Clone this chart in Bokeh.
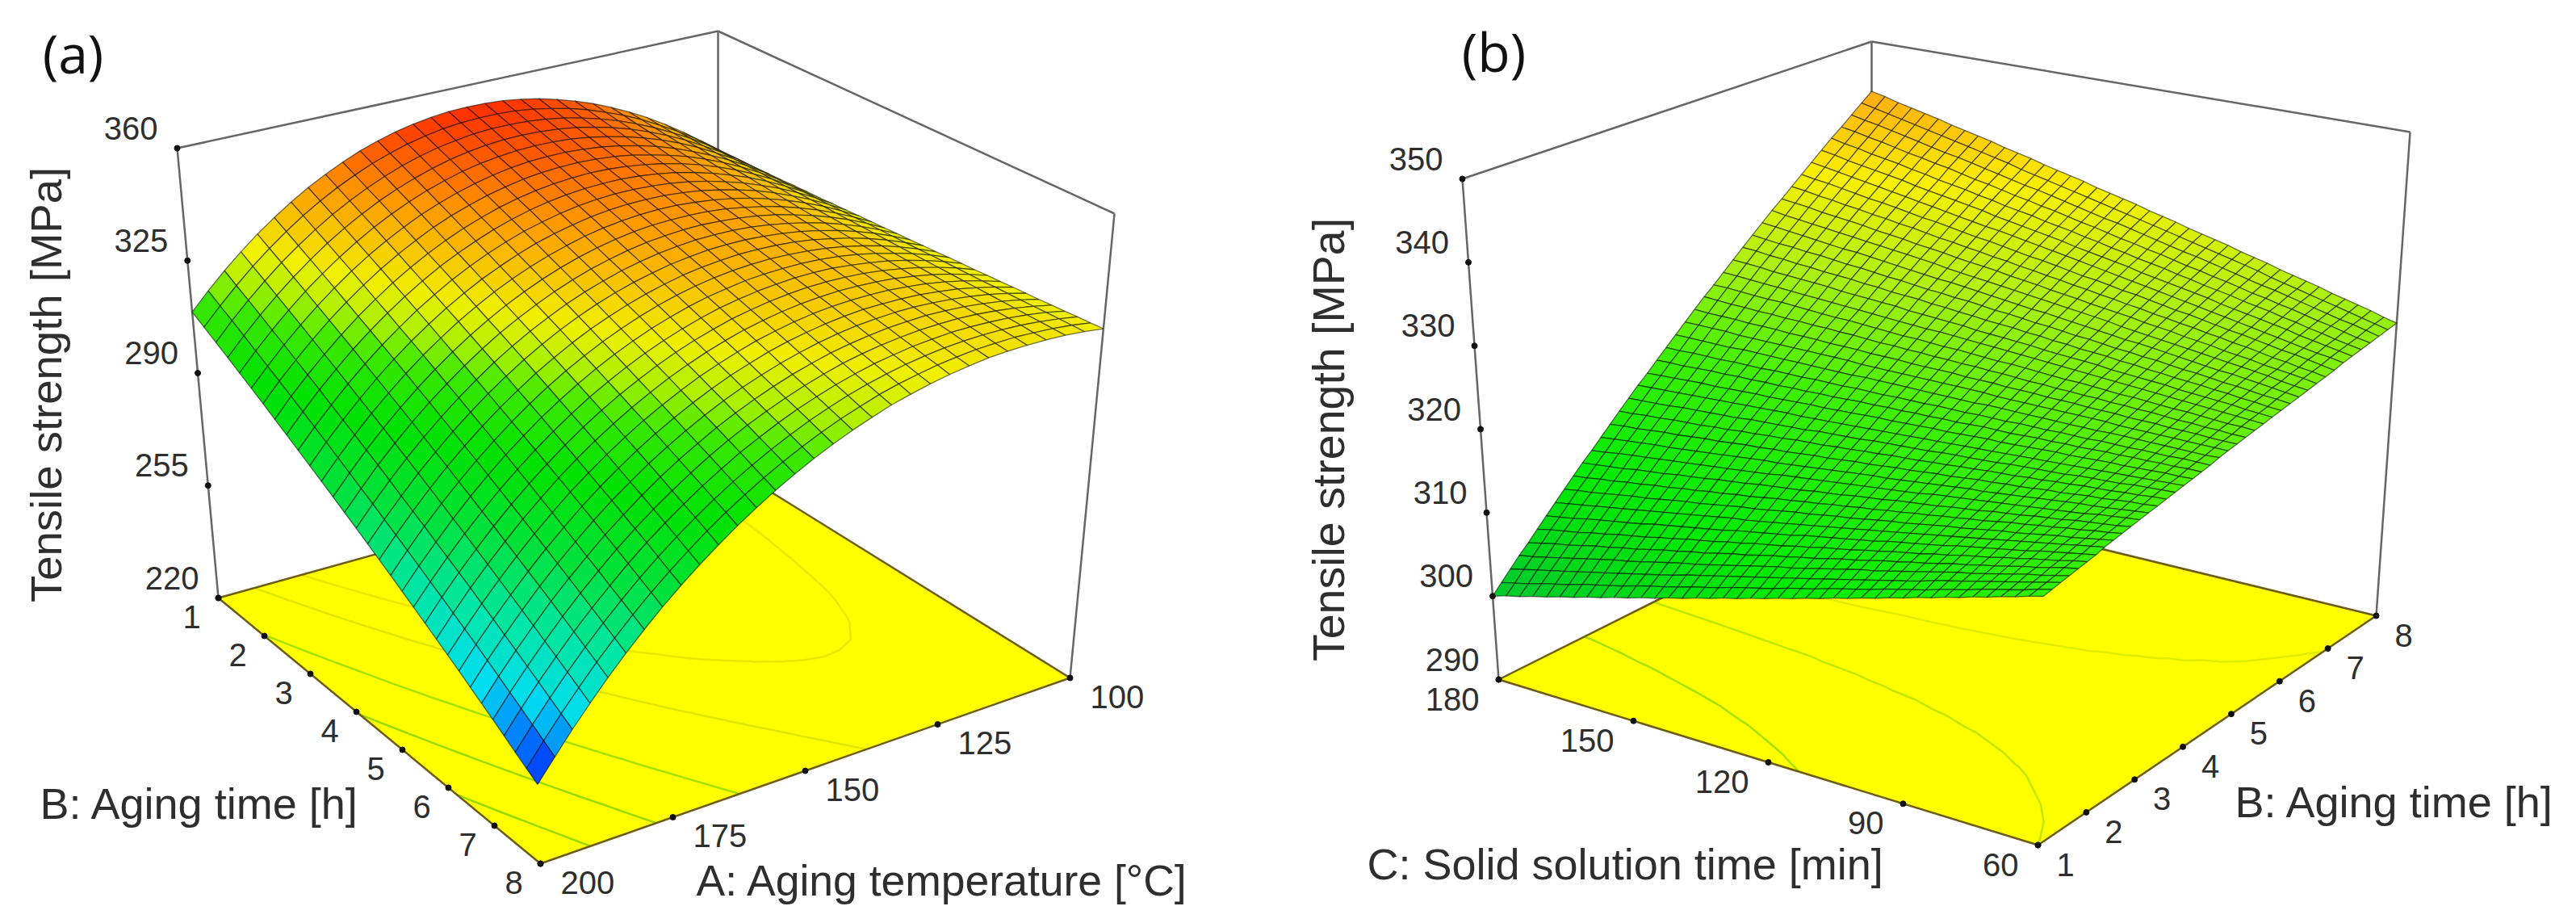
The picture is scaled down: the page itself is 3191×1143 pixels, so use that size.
import math
import numpy as np
from bokeh.plotting import figure
from bokeh.models import Range1d
from bokeh.core.properties import value
from bokeh.embed import file_html
from bokeh.resources import INLINE

# ---------- chart values ----------
A_NODES = [100.0,103.33,106.67,110.0,113.33,116.67,120.0,123.33,126.67,130.0,133.33,136.67,140.0,143.33,146.67,150.0,
           153.33,156.67,160.0,163.33,166.67,170.0,173.33,176.67,180.0,183.33,186.67,190.0,193.33,196.67,200.0]
B_NODES_A = [1.0,1.233,1.467,1.7,1.933,2.167,2.4,2.633,2.867,3.1,3.333,3.567,3.8,4.033,4.267,4.5,
             4.733,4.967,5.2,5.433,5.667,5.9,6.133,6.367,6.6,6.833,7.067,7.3,7.533,7.767,8.0]
# rows: B from 1 to 8; columns: A from 100 to 200
TS_A = [
 [321.0,325.5,329.7,333.5,337.0,340.1,342.9,345.4,347.5,349.3,350.8,351.9,352.7,353.1,353.2,353.0,352.4,351.5,350.3,348.7,346.8,344.5,341.9,339.0,335.7,332.1,328.2,323.9,319.3,314.3,309.0],
 [321.1,325.5,329.6,333.3,336.6,339.7,342.4,344.7,346.8,348.5,349.8,350.9,351.6,351.9,351.9,351.6,351.0,350.0,348.7,347.0,345.1,342.7,340.1,337.1,333.8,330.1,326.1,321.8,317.1,312.1,306.8],
 [321.3,325.5,329.5,333.1,336.3,339.2,341.8,344.1,346.0,347.6,348.9,349.8,350.4,350.7,350.7,350.3,349.5,348.5,347.1,345.4,343.3,340.9,338.2,335.2,331.8,328.1,324.1,319.7,315.0,310.0,304.6],
 [321.4,325.6,329.4,332.8,336.0,338.8,341.3,343.5,345.3,346.8,348.0,348.8,349.3,349.5,349.4,348.9,348.1,347.0,345.5,343.7,341.6,339.2,336.4,333.3,329.9,326.1,322.0,317.6,312.9,307.8,302.4],
 [321.6,325.6,329.3,332.6,335.7,338.4,340.8,342.8,344.5,345.9,347.0,347.8,348.2,348.3,348.1,347.5,346.7,345.5,343.9,342.1,339.9,337.4,334.6,331.4,327.9,324.1,320.0,315.5,310.7,305.6,300.2],
 [321.7,325.6,329.2,332.4,335.3,337.9,340.2,342.2,343.8,345.1,346.1,346.7,347.1,347.1,346.8,346.2,345.2,343.9,342.3,340.4,338.2,335.6,332.7,329.5,326.0,322.1,317.9,313.4,308.6,303.4,298.0],
 [321.9,325.6,329.1,332.2,335.0,337.5,339.7,341.5,343.0,344.3,345.2,345.7,346.0,345.9,345.5,344.8,343.7,342.4,340.7,338.8,336.5,333.8,330.9,327.6,324.0,320.1,315.9,311.3,306.4,301.3,295.8],
 [322.0,325.6,329.0,332.0,334.7,337.1,339.2,340.9,342.3,343.4,344.2,344.7,344.9,344.7,344.2,343.4,342.3,340.9,339.1,337.1,334.7,332.0,329.0,325.7,322.0,318.1,313.8,309.2,304.3,299.1,293.5],
 [322.1,325.7,328.9,331.8,334.4,336.6,338.6,340.2,341.6,342.6,343.3,343.7,343.7,343.5,342.9,342.1,340.9,339.4,337.6,335.4,333.0,330.3,327.2,323.8,320.1,316.1,311.8,307.1,302.2,296.9,291.3],
 [322.3,325.7,328.8,331.6,334.0,336.2,338.0,339.6,340.8,341.7,342.3,342.6,342.6,342.3,341.7,340.7,339.4,337.9,336.0,333.8,331.3,328.5,325.3,321.9,318.1,314.1,309.7,305.0,300.0,294.7,289.1],
 [322.4,325.7,328.7,331.3,333.7,335.8,337.5,338.9,340.1,340.9,341.4,341.6,341.5,341.1,340.4,339.3,338.0,336.4,334.4,332.1,329.6,326.7,323.5,320.0,316.2,312.1,307.7,302.9,297.9,292.6,286.9],
 [322.6,325.7,328.6,331.1,333.4,335.3,337.0,338.3,339.3,340.0,340.5,340.6,340.4,339.9,339.1,338.0,336.5,334.8,332.8,330.5,327.9,324.9,321.7,318.1,314.3,310.1,305.6,300.9,295.8,290.4,284.7],
 [322.7,325.7,328.5,330.9,333.0,334.9,336.4,337.6,338.6,339.2,339.5,339.5,339.3,338.7,337.8,336.6,335.1,333.3,331.2,328.8,326.1,323.1,319.8,316.2,312.3,308.1,303.6,298.8,293.7,288.2,282.5],
 [322.8,325.8,328.4,330.7,332.7,334.4,335.9,337.0,337.8,338.3,338.6,338.5,338.1,337.5,336.5,335.2,333.7,331.8,329.6,327.1,324.4,321.4,318.0,314.3,310.3,306.1,301.6,296.7,291.6,286.0,280.3],
 [323.0,325.8,328.3,330.5,332.4,334.0,335.3,336.3,337.1,337.5,337.6,337.5,337.0,336.3,335.2,333.9,332.2,330.3,328.1,325.5,322.7,319.6,316.2,312.4,308.4,304.1,299.5,294.6,289.4,283.9,278.1],
 [323.1,325.8,328.2,330.3,332.1,333.6,334.8,335.7,336.3,336.7,336.7,336.5,335.9,335.1,333.9,332.5,330.8,328.8,326.5,323.9,321.0,317.8,314.3,310.5,306.4,302.1,297.4,292.5,287.2,281.7,275.9],
 [323.3,325.8,328.1,330.1,331.8,333.1,334.3,335.1,335.6,335.8,335.8,335.4,334.8,333.9,332.6,331.1,329.3,327.2,324.9,322.2,319.2,316.0,312.4,308.6,304.5,300.1,295.4,290.4,285.1,279.5,273.7],
 [323.4,325.8,328.0,329.9,331.4,332.7,333.7,334.4,334.8,335.0,334.8,334.4,333.7,332.7,331.4,329.8,327.9,325.7,323.3,320.5,317.5,314.2,310.6,306.7,302.5,298.1,293.3,288.3,283.0,277.4,271.5],
 [323.6,325.9,327.9,329.6,331.1,332.3,333.2,333.8,334.1,334.1,333.9,333.4,332.5,331.5,330.1,328.4,326.5,324.2,321.7,318.9,315.8,312.4,308.8,304.8,300.6,296.1,291.3,286.2,280.8,275.2,269.3],
 [323.7,325.9,327.8,329.4,330.8,331.8,332.6,333.2,333.4,333.3,332.9,332.3,331.4,330.3,328.8,327.0,325.0,322.7,320.1,317.2,314.1,310.6,306.9,302.9,298.6,294.1,289.2,284.1,278.7,273.0,267.1],
 [323.8,325.9,327.7,329.2,330.4,331.4,332.1,332.5,332.6,332.5,332.0,331.3,330.3,329.1,327.5,325.7,323.6,321.2,318.5,315.6,312.4,308.9,305.1,301.0,296.7,292.1,287.2,282.0,276.6,270.9,264.9],
 [324.0,325.9,327.6,329.0,330.1,331.0,331.5,331.8,331.9,331.6,331.1,330.3,329.2,327.9,326.2,324.3,322.1,319.7,316.9,313.9,310.6,307.1,303.3,299.2,294.7,290.1,285.1,279.9,274.5,268.7,262.7],
 [324.1,325.9,327.5,328.8,329.8,330.5,331.0,331.2,331.1,330.8,330.2,329.3,328.1,326.7,324.9,322.9,320.7,318.1,315.3,312.3,308.9,305.3,301.4,297.3,292.8,288.1,283.1,277.8,272.3,266.5,260.5],
 [324.3,326.0,327.4,328.6,329.4,330.1,330.4,330.5,330.4,329.9,329.2,328.2,327.0,325.5,323.6,321.6,319.2,316.6,313.7,310.6,307.2,303.5,299.6,295.4,290.8,286.1,281.0,275.7,270.2,264.4,258.3],
 [324.4,326.0,327.3,328.3,329.1,329.6,329.9,329.9,329.6,329.1,328.3,327.2,325.8,324.2,322.3,320.2,317.8,315.1,312.1,308.9,305.5,301.7,297.8,293.5,288.9,284.1,279.0,273.6,268.0,262.2,256.0],
 [324.5,326.0,327.2,328.1,328.8,329.2,329.4,329.2,328.9,328.2,327.3,326.2,324.7,323.0,321.0,318.8,316.3,313.6,310.5,307.3,303.8,300.0,295.9,291.6,286.9,282.1,277.0,271.5,265.9,260.0,253.8],
 [324.7,326.0,327.1,327.9,328.5,328.8,328.8,328.6,328.1,327.4,326.4,325.2,323.6,321.8,319.7,317.4,314.9,312.1,309.0,305.6,302.0,298.2,294.1,289.7,285.0,280.1,274.9,269.4,263.7,257.8,251.6],
 [324.8,326.1,327.0,327.7,328.1,328.3,328.3,327.9,327.4,326.5,325.5,324.1,322.5,320.6,318.5,316.1,313.4,310.6,307.4,304.0,300.3,296.4,292.3,287.8,283.0,278.1,272.9,267.3,261.6,255.6,249.4],
 [325.0,326.1,326.9,327.5,327.8,327.9,327.7,327.3,326.6,325.7,324.5,323.1,321.4,319.4,317.2,314.7,312.0,309.0,305.8,302.3,298.6,294.6,290.4,285.9,281.1,276.1,270.8,265.2,259.4,253.4,247.1],
 [325.1,326.1,326.8,327.2,327.5,327.4,327.2,326.6,325.9,324.8,323.6,322.1,320.2,318.2,315.9,313.3,310.5,307.5,304.2,300.7,296.9,292.8,288.5,284.0,279.2,274.1,268.8,263.1,257.3,251.2,244.9],
 [325.3,326.1,326.7,327.0,327.1,327.0,326.7,326.0,325.1,324.0,322.6,321.1,319.1,317.0,314.6,312.0,309.1,306.0,302.6,299.0,295.1,291.0,286.7,282.1,277.2,272.1,266.7,261.0,255.2,249.0,242.8],
]
C_NODES = [180,177,174,171,168,165,162,159,156,153,150,147,144,141,138,135,132,129,126,123,120,
           117,114,111,108,105,102,99,96,93,90,87,84,81,78,75,72,69,66,63,60]
B_NODES_B = [1.0,1.175,1.35,1.525,1.7,1.875,2.05,2.225,2.4,2.575,2.75,2.925,3.1,3.275,3.45,3.625,3.8,3.975,4.15,4.325,4.5,
             4.675,4.85,5.025,5.2,5.375,5.55,5.725,5.9,6.075,6.25,6.425,6.6,6.775,6.95,7.125,7.3,7.475,7.65,7.825,8.0]
# rows: B from 1 to 8; columns: C from 180 to 60
TS_B = [
 [300.0,300.5,300.9,301.4,301.8,302.3,302.7,303.2,303.6,304.1,304.5,305.0,305.4,305.9,306.3,306.8,307.2,307.7,308.1,308.6,309.0,309.5,309.9,310.4,310.8,311.3,311.7,312.2,312.6,313.1,313.5,314.0,314.4,314.9,315.3,315.8,316.2,316.7,317.1,317.6,318.0],
 [301.1,301.5,301.9,302.4,302.8,303.2,303.7,304.1,304.5,304.9,305.4,305.8,306.2,306.6,307.1,307.5,307.9,308.4,308.8,309.2,309.6,310.1,310.5,310.9,311.4,311.8,312.2,312.6,313.1,313.5,313.9,314.3,314.8,315.2,315.6,316.1,316.5,316.9,317.3,317.8,318.2],
 [302.2,302.6,303.0,303.4,303.8,304.2,304.6,305.0,305.4,305.8,306.2,306.6,307.0,307.5,307.9,308.3,308.7,309.1,309.5,309.9,310.3,310.7,311.1,311.5,311.9,312.3,312.7,313.1,313.5,313.9,314.3,314.8,315.2,315.6,316.0,316.4,316.8,317.2,317.6,318.0,318.4],
 [303.3,303.6,304.0,304.4,304.8,305.2,305.6,306.0,306.3,306.7,307.1,307.5,307.9,308.2,308.6,309.0,309.4,309.8,310.2,310.6,310.9,311.3,311.7,312.1,312.5,312.9,313.2,313.6,314.0,314.4,314.8,315.2,315.6,315.9,316.3,316.7,317.1,317.5,317.8,318.2,318.6],
 [304.3,304.7,305.1,305.4,305.8,306.2,306.5,306.9,307.2,307.6,308.0,308.3,308.7,309.0,309.4,309.8,310.1,310.5,310.9,311.2,311.6,311.9,312.3,312.7,313.0,313.4,313.8,314.1,314.5,314.8,315.2,315.6,315.9,316.3,316.6,317.0,317.4,317.7,318.1,318.5,318.8],
 [305.4,305.8,306.1,306.4,306.8,307.1,307.5,307.8,308.1,308.5,308.8,309.2,309.5,309.8,310.2,310.5,310.9,311.2,311.5,311.9,312.2,312.6,312.9,313.2,313.6,313.9,314.3,314.6,314.9,315.3,315.6,316.0,316.3,316.6,317.0,317.3,317.7,318.0,318.3,318.7,319.0],
 [306.5,306.8,307.1,307.5,307.8,308.1,308.4,308.7,309.1,309.4,309.7,310.0,310.3,310.6,311.0,311.3,311.6,311.9,312.2,312.6,312.9,313.2,313.5,313.8,314.1,314.5,314.8,315.1,315.4,315.7,316.1,316.4,316.7,317.0,317.3,317.6,318.0,318.3,318.6,318.9,319.2],
 [307.6,307.9,308.2,308.5,308.8,309.1,309.4,309.7,310.0,310.3,310.6,310.9,311.2,311.5,311.7,312.0,312.3,312.6,312.9,313.2,313.5,313.8,314.1,314.4,314.7,315.0,315.3,315.6,315.9,316.2,316.5,316.8,317.1,317.4,317.7,318.0,318.3,318.6,318.9,319.2,319.5],
 [308.7,309.0,309.2,309.5,309.8,310.1,310.3,310.6,310.9,311.2,311.4,311.7,312.0,312.3,312.5,312.8,313.1,313.4,313.6,313.9,314.2,314.4,314.7,315.0,315.3,315.5,315.8,316.1,316.4,316.6,316.9,317.2,317.5,317.7,318.0,318.3,318.6,318.8,319.1,319.4,319.7],
 [309.8,310.0,310.3,310.5,310.8,311.0,311.3,311.5,311.8,312.0,312.3,312.5,312.8,313.0,313.3,313.6,313.8,314.1,314.3,314.6,314.8,315.1,315.3,315.6,315.8,316.1,316.3,316.6,316.8,317.1,317.3,317.6,317.9,318.1,318.4,318.6,318.9,319.1,319.4,319.6,319.9],
 [310.9,311.1,311.3,311.5,311.8,312.0,312.2,312.5,312.7,312.9,313.2,313.4,313.6,313.9,314.1,314.3,314.5,314.8,315.0,315.2,315.5,315.7,315.9,316.2,316.4,316.6,316.8,317.1,317.3,317.5,317.8,318.0,318.2,318.5,318.7,318.9,319.2,319.4,319.6,319.8,320.1],
 [311.9,312.1,312.4,312.6,312.8,313.0,313.2,313.4,313.6,313.8,314.0,314.2,314.4,314.6,314.9,315.1,315.3,315.5,315.7,315.9,316.1,316.3,316.5,316.7,316.9,317.2,317.4,317.6,317.8,318.0,318.2,318.4,318.6,318.8,319.0,319.2,319.4,319.7,319.9,320.1,320.3],
 [313.0,313.2,313.4,313.6,313.8,313.9,314.1,314.3,314.5,314.7,314.9,315.1,315.3,315.4,315.6,315.8,316.0,316.2,316.4,316.6,316.8,316.9,317.1,317.3,317.5,317.7,317.9,318.1,318.2,318.4,318.6,318.8,319.0,319.2,319.4,319.6,319.7,319.9,320.1,320.3,320.5],
 [314.1,314.3,314.4,314.6,314.8,314.9,315.1,315.3,315.4,315.6,315.8,315.9,316.1,316.2,316.4,316.6,316.7,316.9,317.1,317.2,317.4,317.6,317.7,317.9,318.1,318.2,318.4,318.6,318.7,318.9,319.0,319.2,319.4,319.5,319.7,319.9,320.0,320.2,320.4,320.5,320.7],
 [315.2,315.3,315.5,315.6,315.8,315.9,316.0,316.2,316.3,316.5,316.6,316.8,316.9,317.1,317.2,317.3,317.5,317.6,317.8,317.9,318.1,318.2,318.3,318.5,318.6,318.8,318.9,319.1,319.2,319.3,319.5,319.6,319.8,319.9,320.1,320.2,320.3,320.5,320.6,320.8,320.9],
 [316.3,316.4,316.5,316.6,316.8,316.9,317.0,317.1,317.2,317.4,317.5,317.6,317.7,317.8,318.0,318.1,318.2,318.3,318.5,318.6,318.7,318.8,318.9,319.1,319.2,319.3,319.4,319.5,319.7,319.8,319.9,320.0,320.1,320.3,320.4,320.5,320.6,320.8,320.9,321.0,321.1],
 [317.4,317.5,317.6,317.7,317.8,317.9,318.0,318.1,318.2,318.3,318.4,318.5,318.5,318.6,318.7,318.8,318.9,319.0,319.1,319.2,319.3,319.4,319.5,319.6,319.7,319.8,319.9,320.0,320.1,320.2,320.3,320.4,320.5,320.6,320.7,320.8,320.9,321.0,321.1,321.2,321.3],
 [318.4,318.5,318.6,318.7,318.8,318.8,318.9,319.0,319.1,319.1,319.2,319.3,319.4,319.4,319.5,319.6,319.7,319.8,319.8,319.9,320.0,320.1,320.1,320.2,320.3,320.4,320.4,320.5,320.6,320.7,320.8,320.8,320.9,321.0,321.1,321.1,321.2,321.3,321.4,321.4,321.5],
 [319.5,319.6,319.6,319.7,319.8,319.8,319.9,319.9,320.0,320.0,320.1,320.1,320.2,320.2,320.3,320.4,320.4,320.5,320.5,320.6,320.6,320.7,320.7,320.8,320.9,320.9,320.9,321.0,321.1,321.1,321.2,321.2,321.3,321.4,321.4,321.5,321.5,321.6,321.6,321.7,321.7],
 [320.6,320.6,320.7,320.7,320.7,320.8,320.8,320.8,320.9,320.9,320.9,321.0,321.0,321.0,321.1,321.1,321.1,321.2,321.2,321.2,321.3,321.3,321.3,321.4,321.4,321.4,321.5,321.5,321.5,321.6,321.6,321.6,321.7,321.7,321.7,321.8,321.8,321.8,321.9,321.9,321.9],
 [321.7,321.7,321.7,321.7,321.7,321.8,321.8,321.8,321.8,321.8,321.8,321.8,321.8,321.8,321.9,321.9,321.9,321.9,321.9,321.9,321.9,321.9,321.9,322.0,322.0,322.0,322.0,322.0,322.0,322.0,322.0,322.0,322.1,322.1,322.1,322.1,322.1,322.1,322.1,322.1,322.2],
 [322.8,322.8,322.8,322.8,322.7,322.7,322.7,322.7,322.7,322.7,322.7,322.7,322.7,322.6,322.6,322.6,322.6,322.6,322.6,322.6,322.6,322.6,322.6,322.5,322.5,322.5,322.5,322.5,322.5,322.5,322.5,322.5,322.4,322.4,322.4,322.4,322.4,322.4,322.4,322.4,322.4],
 [323.9,323.8,323.8,323.8,323.7,323.7,323.7,323.6,323.6,323.6,323.5,323.5,323.5,323.4,323.4,323.4,323.3,323.3,323.3,323.3,323.2,323.2,323.2,323.1,323.1,323.1,323.0,323.0,323.0,322.9,322.9,322.9,322.8,322.8,322.8,322.7,322.7,322.7,322.6,322.6,322.6],
 [325.0,324.9,324.8,324.8,324.7,324.7,324.6,324.6,324.5,324.5,324.4,324.4,324.3,324.2,324.2,324.1,324.1,324.0,324.0,323.9,323.9,323.8,323.8,323.7,323.6,323.6,323.5,323.5,323.4,323.4,323.3,323.3,323.2,323.2,323.1,323.0,323.0,322.9,322.9,322.8,322.8],
 [326.0,326.0,325.9,325.8,325.7,325.7,325.6,325.5,325.4,325.3,325.3,325.2,325.1,325.0,324.9,324.9,324.8,324.7,324.7,324.6,324.5,324.4,324.4,324.3,324.2,324.1,324.0,324.0,323.9,323.8,323.7,323.7,323.6,323.5,323.4,323.4,323.3,323.2,323.1,323.1,323.0],
 [327.1,327.0,326.9,326.8,326.7,326.6,326.5,326.4,326.3,326.2,326.1,326.0,325.9,325.8,325.7,325.6,325.6,325.5,325.4,325.3,325.2,325.1,325.0,324.9,324.8,324.7,324.6,324.5,324.4,324.3,324.2,324.1,324.0,323.9,323.8,323.7,323.6,323.5,323.4,323.3,323.2],
 [328.2,328.1,328.0,327.8,327.7,327.6,327.5,327.4,327.2,327.1,327.0,326.9,326.8,326.6,326.5,326.4,326.3,326.2,326.0,325.9,325.8,325.7,325.6,325.4,325.3,325.2,325.1,325.0,324.8,324.7,324.6,324.5,324.4,324.2,324.1,324.0,323.9,323.8,323.6,323.5,323.4],
 [329.3,329.2,329.0,328.9,328.7,328.6,328.4,328.3,328.2,328.0,327.9,327.7,327.6,327.5,327.3,327.2,327.0,326.9,326.7,326.6,326.5,326.3,326.2,326.0,325.9,325.7,325.6,325.5,325.3,325.2,325.0,324.9,324.7,324.6,324.5,324.3,324.2,324.0,323.9,323.7,323.6],
 [330.4,330.2,330.0,329.9,329.7,329.6,329.4,329.2,329.1,328.9,328.7,328.6,328.4,328.2,328.1,327.9,327.8,327.6,327.4,327.3,327.1,326.9,326.8,326.6,326.4,326.3,326.1,325.9,325.8,325.6,325.5,325.3,325.1,325.0,324.8,324.6,324.5,324.3,324.1,324.0,323.8],
 [331.5,331.3,331.1,330.9,330.7,330.5,330.3,330.2,330.0,329.8,329.6,329.4,329.2,329.0,328.9,328.7,328.5,328.3,328.1,327.9,327.7,327.6,327.4,327.2,327.0,326.8,326.6,326.4,326.3,326.1,325.9,325.7,325.5,325.3,325.1,325.0,324.8,324.6,324.4,324.2,324.0],
 [332.6,332.3,332.1,331.9,331.7,331.5,331.3,331.1,330.9,330.7,330.5,330.3,330.1,329.8,329.6,329.4,329.2,329.0,328.8,328.6,328.4,328.2,328.0,327.8,327.6,327.4,327.1,326.9,326.7,326.5,326.3,326.1,325.9,325.7,325.5,325.3,325.1,324.9,324.6,324.4,324.2],
 [333.6,333.4,333.2,332.9,332.7,332.5,332.3,332.0,331.8,331.6,331.3,331.1,330.9,330.6,330.4,330.2,330.0,329.7,329.5,329.3,329.0,328.8,328.6,328.3,328.1,327.9,327.7,327.4,327.2,327.0,326.7,326.5,326.3,326.0,325.8,325.6,325.3,325.1,324.9,324.7,324.4],
 [334.7,334.5,334.2,334.0,333.7,333.5,333.2,333.0,332.7,332.5,332.2,331.9,331.7,331.4,331.2,330.9,330.7,330.4,330.2,329.9,329.7,329.4,329.2,328.9,328.7,328.4,328.2,327.9,327.7,327.4,327.2,326.9,326.7,326.4,326.2,325.9,325.6,325.4,325.1,324.9,324.6],
 [335.8,335.5,335.3,335.0,334.7,334.4,334.2,333.9,333.6,333.3,333.1,332.8,332.5,332.2,332.0,331.7,331.4,331.1,330.9,330.6,330.3,330.0,329.8,329.5,329.2,329.0,328.7,328.4,328.1,327.9,327.6,327.3,327.0,326.8,326.5,326.2,325.9,325.7,325.4,325.1,324.8],
 [336.9,336.6,336.3,336.0,335.7,335.4,335.1,334.8,334.5,334.2,333.9,333.6,333.3,333.0,332.8,332.5,332.2,331.9,331.6,331.3,331.0,330.7,330.4,330.1,329.8,329.5,329.2,328.9,328.6,328.3,328.0,327.7,327.4,327.1,326.8,326.5,326.2,325.9,325.6,325.4,325.1],
 [338.0,337.7,337.3,337.0,336.7,336.4,336.1,335.7,335.4,335.1,334.8,334.5,334.2,333.8,333.5,333.2,332.9,332.6,332.3,331.9,331.6,331.3,331.0,330.7,330.3,330.0,329.7,329.4,329.1,328.8,328.4,328.1,327.8,327.5,327.2,326.9,326.5,326.2,325.9,325.6,325.3],
 [339.1,338.7,338.4,338.0,337.7,337.4,337.0,336.7,336.3,336.0,335.7,335.3,335.0,334.6,334.3,334.0,333.6,333.3,333.0,332.6,332.3,331.9,331.6,331.2,330.9,330.6,330.2,329.9,329.5,329.2,328.9,328.5,328.2,327.9,327.5,327.2,326.8,326.5,326.1,325.8,325.5],
 [340.1,339.8,339.4,339.1,338.7,338.3,338.0,337.6,337.3,336.9,336.5,336.2,335.8,335.4,335.1,334.7,334.4,334.0,333.6,333.3,332.9,332.5,332.2,331.8,331.5,331.1,330.7,330.4,330.0,329.7,329.3,328.9,328.6,328.2,327.9,327.5,327.1,326.8,326.4,326.0,325.7],
 [341.2,340.8,340.5,340.1,339.7,339.3,338.9,338.5,338.2,337.8,337.4,337.0,336.6,336.2,335.9,335.5,335.1,334.7,334.3,333.9,333.6,333.2,332.8,332.4,332.0,331.6,331.3,330.9,330.5,330.1,329.7,329.3,329.0,328.6,328.2,327.8,327.4,327.0,326.7,326.3,325.9],
 [342.3,341.9,341.5,341.1,340.7,340.3,339.9,339.5,339.1,338.7,338.3,337.9,337.4,337.0,336.6,336.2,335.8,335.4,335.0,334.6,334.2,333.8,333.4,333.0,332.6,332.2,331.8,331.4,331.0,330.6,330.2,329.7,329.3,328.9,328.5,328.1,327.7,327.3,326.9,326.5,326.1],
 [343.4,343.0,342.5,342.1,341.7,341.3,340.8,340.4,340.0,339.6,339.1,338.7,338.3,337.8,337.4,337.0,336.6,336.1,335.7,335.3,334.9,334.4,334.0,333.6,333.1,332.7,332.3,331.9,331.4,331.0,330.6,330.1,329.7,329.3,328.9,328.4,328.0,327.6,327.2,326.7,326.3],
]
TICKS_Z_A = [220, 255, 290, 325, 360]
TICKS_A = [100, 125, 150, 175, 200]
TICKS_B = [1, 2, 3, 4, 5, 6, 7, 8]
TICKS_Z_B = [290, 300, 310, 320, 330, 340, 350]
TICKS_C = [60, 90, 120, 150, 180]
CONTOURS_A = [260, 280, 300, 320, 332]
CONTOURS_B = [310, 318, 325]
Z_LABEL = "Tensile strength [MPa]"

# colour scales: surface height -> colour
STOPS_A = [242, 248, 258, 270, 285, 300, 312, 318, 325, 340, 354]
RGB_A = [(0,0,240),(0,90,255),(0,220,240),(0,230,170),(0,225,60),(0,225,0),(60,232,0),(170,240,0),(240,240,0),(255,150,0),(255,40,0)]
STOPS_B = [300, 310, 320, 328, 336, 344]
RGB_B = [(0,200,50),(0,235,0),(60,240,0),(170,240,20),(250,240,0),(255,165,20)]

# ---------- view: position of the eight box corners, [u][v][w] ----------
VIEW_A = {(0,0,0):(889,568),(1,0,0):(270,740),(1,1,0):(669,1069),(0,1,0):(1325,839),
          (0,0,1):(889,38),(1,0,1):(219,183),(1,1,1):(647,467),(0,1,1):(1380,264)}
VIEW_B = {(0,0,0):(1856,841),(1,0,0):(2524,1046),(1,1,0):(2943,762),(0,1,0):(2318,610),
          (0,0,1):(1811,221),(1,0,1):(2538,386),(1,1,1):(2985,163),(0,1,1):(2318,51)}

def project(view, u, v, w):
    x = y = 0.0
    for (a, b, c), (px, py) in view.items():
        f = (u if a else 1-u) * (v if b else 1-v) * (w if c else 1-w)
        x += f*px
        y += f*py
    return x, y

def colour(z, stops, rgb):
    c = [int(round(np.interp(z, stops, [r[k] for r in rgb]))) for k in range(3)]
    return "#%02x%02x%02x" % tuple(c)

p = figure(width=3175, height=1127, x_range=Range1d(0, 3175), y_range=Range1d(1127, 0),
           output_backend="svg", toolbar_location=None, min_border=0)
p.axis.visible = False
p.grid.visible = False
p.outline_line_color = None

FONT = value("Liberation Sans")
TXT = "#2e2e2e"

def line(view, a, b, color, width):
    pa, pb = project(view, *a), project(view, *b)
    p.line([pa[0], pb[0]], [pa[1], pb[1]], line_color=color, line_width=width)

def draw_panel(view, us, vs, table, zmin, zmax, stops, rgb, levels, colours, far_v_first, back):
    table = np.array(table)
    us, vs = np.array(us), np.array(vs)
    # floor
    fl = [project(view, *c) for c in [(0,0,0),(1,0,0),(1,1,0),(0,1,0)]]
    p.patch([q[0] for q in fl], [q[1] for q in fl], fill_color="#ffff00", line_color=None)
    # contours on floor; the small shift keeps a level from landing exactly on a table value
    for lev0, col in zip(levels, colours):
        lev = lev0 + 0.017
        xs, ys = [], []
        for j in range(len(vs)-1):
            for i in range(len(us)-1):
                cell = [(us[i],vs[j],table[j,i]),(us[i+1],vs[j],table[j,i+1]),
                        (us[i+1],vs[j+1],table[j+1,i+1]),(us[i],vs[j+1],table[j+1,i])]
                pts = []
                for k in range(4):
                    a, b = cell[k], cell[(k+1)%4]
                    if (a[2]-lev)*(b[2]-lev) < 0:
                        t = (lev-a[2])/(b[2]-a[2])
                        pts.append(project(view, a[0]+t*(b[0]-a[0]), a[1]+t*(b[1]-a[1]), 0))
                for m in range(0, len(pts)-1, 2):
                    xs.append([pts[m][0], pts[m+1][0]])
                    ys.append([pts[m][1], pts[m+1][1]])
        p.multi_line(xs, ys, line_color=col, line_width=2.5, line_alpha=0.8)
    # box
    for a, b in back:
        line(view, a, b, "#666666", 2.5)
    # floor edges
    olive = "#6e5c10"
    for a, b in [((0,0,0),(1,0,0)),((1,0,0),(1,1,0)),((1,1,0),(0,1,0)),((0,1,0),(0,0,0))]:
        line(view, a, b, olive, 2.5)
    # surface, far cells first
    xs, ys, cols = [], [], []
    zr = zmax-zmin
    jr = range(len(vs)-1) if far_v_first else range(len(vs)-2, -1, -1)
    for j in jr:
        for i in range(len(us)-1):
            idx = [(j,i),(j,i+1),(j+1,i+1),(j+1,i)]
            q = [project(view, us[b], vs[a], (table[a,b]-zmin)/zr) for a, b in idx]
            xs.append([c[0] for c in q])
            ys.append([c[1] for c in q])
            cols.append(colour(np.mean([table[a,b] for a, b in idx]), stops, rgb))
    p.patches(xs, ys, fill_color=cols, line_color="black", line_alpha=0.55, line_width=1.3)

def ticks(view, pts, labels, dx, dy, align):
    q = [project(view, *c) for c in pts]
    p.scatter([c[0] for c in q], [c[1] for c in q], size=7, color="#111111", marker="circle")
    p.text([c[0]+dx for c in q], [c[1]+dy for c in q], text=[str(t) for t in labels],
           text_font=FONT, text_font_size="40px", text_align=align, text_baseline="middle", text_color=TXT)

def label(x, y, s, size=54, angle=0.0, align="left", font=FONT, color=TXT):
    p.text([x], [y], text=[s], text_font=font, text_font_size=f"{size}px", text_align=align,
           text_baseline="middle", angle=angle, text_color=color)

# ---------- panel (a) ----------
ua = [(a-100)/100 for a in A_NODES]
va = [(b-1)/7 for b in B_NODES_A]
back_a = [((1,0,1),(0,0,1)),((0,0,1),(0,1,1)),((0,0,1),(0,0,0)),((0,1,1),(0,1,0)),((1,0,1),(1,0,0))]
draw_panel(VIEW_A, ua, va, TS_A, 220, 360, STOPS_A, RGB_A, CONTOURS_A,
           ["#7fd000","#7fd000","#90d800","#d8e000","#e8e000"], True, back_a)
ticks(VIEW_A, [(1,0,(z-220)/140) for z in TICKS_Z_A], TICKS_Z_A, -24, -25, "right")
ticks(VIEW_A, [((a-100)/100,1,0) for a in TICKS_A], TICKS_A, 25, 23, "left")
ticks(VIEW_A, [(1,(b-1)/7,0) for b in TICKS_B], TICKS_B, -33, 23, "center")
label(57, 476, Z_LABEL, size=54.5, angle=math.pi/2, align="center")
label(49, 994, "B: Aging time [h]")
label(862, 1090, "A: Aging temperature [°C]", size=53.5)
label(90, 64, "(a)", size=66, align="center", font=value("Open Sans"), color="#111111")

# ---------- panel (b) ----------
ub = [(180-c)/120 for c in C_NODES]
vb = [(b-1)/7 for b in B_NODES_B]
back_b = [((0,0,1),(0,1,1)),((0,1,1),(1,1,1)),((0,1,1),(0,1,0)),((1,1,1),(1,1,0)),((0,0,1),(0,0,0))]
draw_panel(VIEW_B, ub, vb, TS_B, 290, 350, STOPS_B, RGB_B, CONTOURS_B,
           ["#90d800","#b0e000","#d8e800"], False, back_b)
ticks(VIEW_B, [(0,0,(z-290)/60) for z in TICKS_Z_B], TICKS_Z_B, -24, -25, "right")
ticks(VIEW_B, [((180-c)/120,0,0) for c in TICKS_C], TICKS_C, -24, 24, "right")
ticks(VIEW_B, [(1,(b-1)/7,0) for b in TICKS_B], TICKS_B, 34, 24, "center")
label(1645, 544, Z_LABEL, size=55.5, angle=math.pi/2, align="center")
label(1693, 1069, "C: Solid solution time [min]")
label(2768, 992, "B: Aging time [h]")
label(1850, 62, "(b)", size=66, align="center", font=value("Open Sans"), color="#111111")

open("out.html", "w").write(file_html(p, INLINE))
